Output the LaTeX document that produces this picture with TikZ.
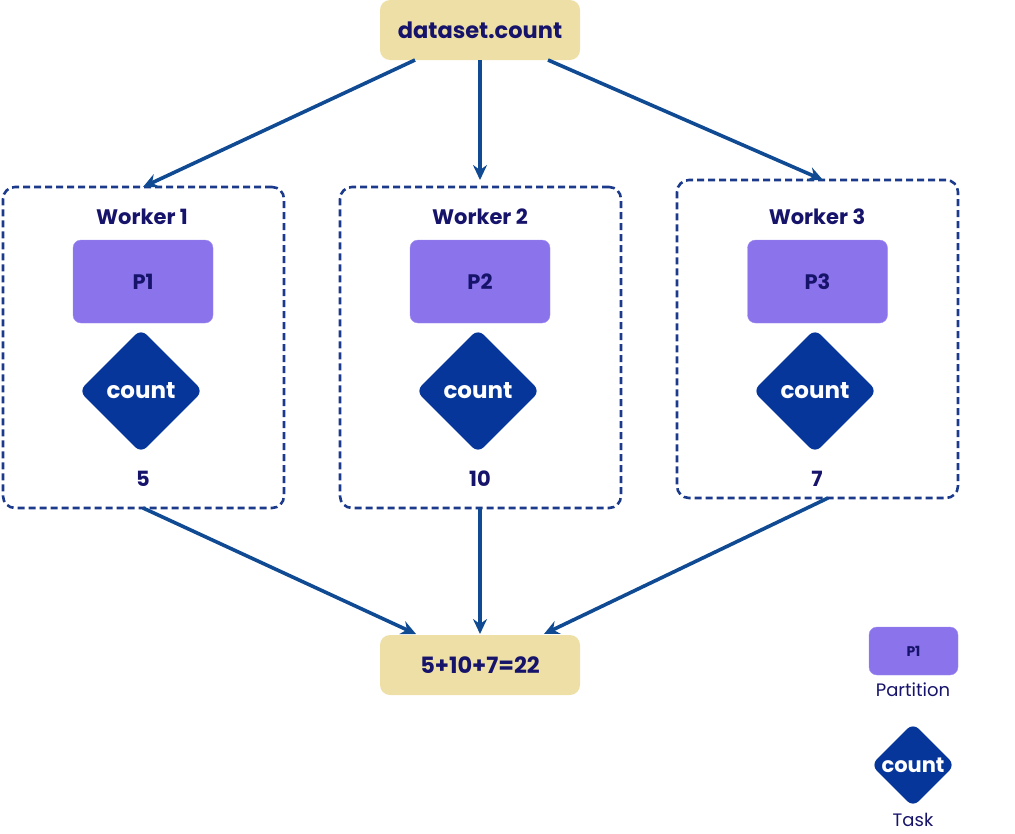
\documentclass[tikz,border=0pt]{standalone}
\usepackage{fontspec}
\setmainfont{Poppins}
\usetikzlibrary{shapes.geometric,arrows.meta}
\definecolor{beige}{HTML}{EEDFA6}
\definecolor{purp}{HTML}{8B73EC}
\definecolor{navy}{HTML}{07369A}
\definecolor{txt}{HTML}{16136A}
\definecolor{dash}{HTML}{1B3A8C}
\definecolor{arr}{HTML}{0F4A93}
\tikzset{
  every node/.style={text=txt, font=\fontsize{18}{20}\selectfont},
  sumbox/.style={fill=beige, rounded corners=10pt, minimum width=200pt, minimum height=60pt, inner sep=0pt, font=\fontsize{22.5}{24}\selectfont\bfseries},
  workerbox/.style={draw=dash, line width=2.6pt, dash pattern=on 7pt off 4pt, rounded corners=12pt, minimum width=281pt, minimum height=321pt, inner sep=0pt},
  partbox/.style={fill=purp, draw=purp!80!white, rounded corners=8pt, minimum width=140pt, minimum height=83pt, inner sep=0pt, font=\fontsize{21}{24}\selectfont\bfseries},
  taskdia/.style={diamond, fill=navy, rounded corners=8pt, minimum width=124pt, minimum height=124pt, inner sep=0pt, text=white, font=\fontsize{23}{26}\selectfont\bfseries},
  wtitle/.style={font=\fontsize{21}{24}\selectfont\bfseries},
  flow/.style={draw=arr, line width=3.6pt, -{Stealth[length=15pt,width=14pt,inset=5pt]}},
}
\begin{document}
\begin{tikzpicture}[x=1pt,y=-1pt]
\useasboundingbox (0,0) rectangle (1015,833);
\node[sumbox] (top) at (480,30) {dataset.count};
\node[sumbox] (sum) at (480,665) {5+10+7=22};

\node[workerbox] (w1) at (143.5,347.5) {};
\node[workerbox] (w2) at (480.5,347.5) {};
\node[workerbox, minimum height=318pt] (w3) at (817.5,339) {};

\node[wtitle] (t1) at (142,217) {Worker 1};
\node[wtitle] (t2) at (480,217) {Worker 2};
\node[wtitle] (t3) at (817,217) {Worker 3};

\node[partbox] (p1) at (143,281.5) {P1};
\node[partbox] (p2) at (480,281.5) {P2};
\node[partbox] (p3) at (817.5,281.5) {P3};

\node[taskdia] (c1) at (141,391) {count};
\node[taskdia] (c2) at (478,391) {count};
\node[taskdia] (c3) at (815,391) {count};

\node[wtitle] (n1) at (143,479) {5};
\node[wtitle] (n2) at (480,479) {10};
\node[wtitle] (n3) at (817,479) {7};

\coordinate (a1) at (415,60);
\coordinate (a2) at (480,60);
\coordinate (a3) at (548,60);
\coordinate (e1) at (143,187);
\coordinate (e2) at (480,180);
\coordinate (e3) at (823,180);
\draw[flow] (a1) -- (e1);
\draw[flow] (a2) -- (e2);
\draw[flow] (a3) -- (e3);

\coordinate (b1) at (143,508);
\coordinate (b2) at (480,508);
\coordinate (b3) at (828,498);
\coordinate (f1) at (416,634);
\coordinate (f2) at (480,634);
\coordinate (f3) at (544,634);
\draw[flow] (b1) -- (f1);
\draw[flow] (b2) -- (f2);
\draw[flow] (b3) -- (f3);

\node[partbox, minimum width=89pt, minimum height=48pt, font=\fontsize{14}{16}\selectfont\bfseries] (lp) at (913.5,651) {P1};
\node (lpt) at (913,690) {Partition};
\node[taskdia, minimum width=84pt, minimum height=84pt, font=\fontsize{21}{22}\selectfont\bfseries] (lc) at (913,765) {count};
\node (lct) at (913,820) {Task};
\end{tikzpicture}
\end{document}
